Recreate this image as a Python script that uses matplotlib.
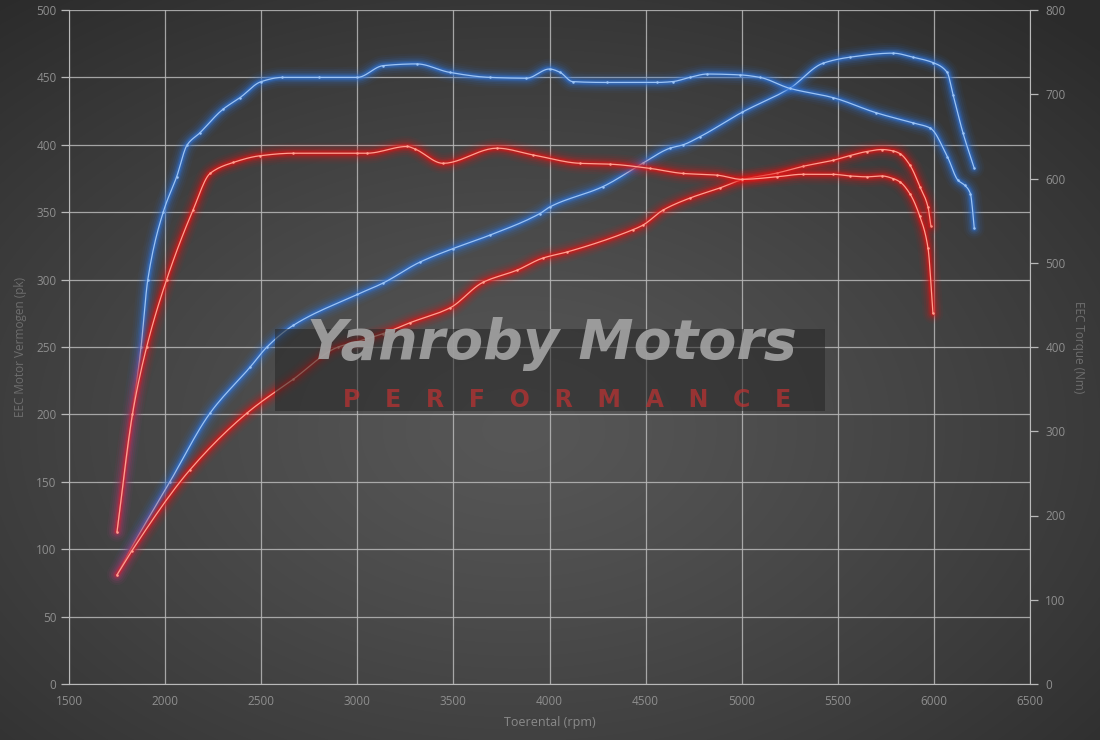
import numpy as np
import matplotlib
matplotlib.use("Agg")
import matplotlib.pyplot as plt

# ---------------- data ----------------
# Tuned (blue) torque, Nm
blue_torque_rpm = [1750, 1830, 1875, 1910, 1990, 2060, 2115, 2180, 2300, 2390, 2500, 2610, 2800,
                   3000, 3135, 3310, 3480, 3690, 3880, 4000, 4055, 4120, 4300, 4560, 4640, 4730,
                   4820, 4990, 5095, 5250, 5475, 5700, 5890, 5980, 6070, 6125, 6160, 6190, 6210]
blue_torque_nm = [181, 320, 400, 480, 560, 602, 640, 654, 682, 696, 715, 720, 720,
                  720, 734, 736, 726, 720, 719, 730, 726, 715, 714, 714, 715, 720,
                  724, 723, 720, 707, 696, 678, 666, 660, 626, 598, 592, 582, 541]

# Stock (red) torque, Nm
red_torque_rpm = [1750, 1830, 1904, 2008, 2146, 2234, 2354, 2494, 2666, 3000, 3050, 3259, 3300,
                  3446, 3727, 3914, 4159, 4315, 4523, 4695, 4871, 5000, 5183, 5318, 5475, 5563,
                  5650, 5730, 5787, 5823, 5875, 5927, 5969, 5995]
red_torque_nm = [181, 320, 400, 480, 563, 606, 619, 627, 630, 630, 630, 638, 635,
                 618, 636, 628, 618, 617, 612, 606, 604, 599, 602, 605, 605, 603,
                 602, 603, 600, 596, 582, 555, 518, 440]

# Tuned (blue) power, pk
blue_power_rpm = [1750, 1817, 2025, 2234, 2442, 2530, 2666, 3000, 3135, 3326, 3498, 3690, 3950,
                  4003, 4278, 4487, 4627, 4695, 4783, 5000, 5251, 5423, 5563, 5787, 5891, 5995,
                  6068, 6100, 6151, 6209]
blue_power_pk = [81, 99, 150, 201, 235, 250, 266, 289, 297.5, 313, 323, 333, 349,
                 354, 369, 386.5, 397.5, 400, 406, 424, 442, 460.5, 465, 468, 465, 461,
                 454, 437, 409, 383]

# Stock (red) power, pk
red_power_rpm = [1750, 1828, 2130, 2426, 2666, 2900, 3000, 3135, 3274, 3482, 3654, 3831,
                 3966, 4091, 4434, 4487, 4590, 4731, 4887, 5000, 5183, 5318, 5475, 5563, 5650,
                 5730, 5787, 5823, 5875, 5927, 5969, 5984]
red_power_pk = [81, 99, 159, 201, 226, 250, 254, 260, 268, 279, 298, 307,
                316, 320.5, 337, 340.5, 351.5, 360.5, 368, 374, 379, 384, 388.5, 392, 395,
                396.5, 395.5, 393.5, 385, 369, 354, 340]

x_ticks = [1500, 2000, 2500, 3000, 3500, 4000, 4500, 5000, 5500, 6000, 6500]
left_ticks = [0, 50, 100, 150, 200, 250, 300, 350, 400, 450, 500]
right_ticks = [0, 100, 200, 300, 400, 500, 600, 700, 800]

# ---------------- figure ----------------
W, H, DPI = 1100, 740, 100
fig = plt.figure(figsize=(W / DPI, H / DPI), dpi=DPI)
plt.rcParams['font.family'] = ['Open Sans', 'DejaVu Sans']

# radial gradient background
bg = fig.add_axes([0, 0, 1, 1], zorder=-10)
yy, xx = np.mgrid[0:H, 0:W]
cx, cy = 0.47 * W, 0.58 * H
r = np.sqrt(((xx - cx) / W) ** 2 + ((yy - cy) / H) ** 2) / 0.75
r = np.clip(r, 0, 1)
c_in, c_out = 0x57, 0x2b
val = (c_in + (c_out - c_in) * r ** 1.2) / 255.0
img = np.dstack([val, val, val])
bg.imshow(img, aspect='auto', extent=[0, 1, 0, 1], origin='upper')
bg.set_axis_off()

left, right = 69 / W, 1030 / W
bottom, top = 1 - 684 / H, 1 - 10 / H
ax = fig.add_axes([left, bottom, right - left, top - bottom])
ax.set_facecolor('none')
ax2 = ax.twinx()
ax2.set_facecolor('none')

grid_col = '#b9b9b9'
tick_col = '#8e8e8e'
lab_col = '#6e6e6e'

ax.set_xlim(1500, 6500)
ax.set_ylim(0, 500)
ax2.set_ylim(0, 800)
ax.set_xticks(x_ticks)
ax.set_yticks(left_ticks)
ax2.set_yticks(right_ticks)
ax.grid(True, color=grid_col, lw=0.9, alpha=0.85)
ax.set_axisbelow(True)

for a in (ax, ax2):
    for s in a.spines.values():
        s.set_visible(False)
ax.spines['left'].set_visible(True)
ax.spines['left'].set_color(grid_col)
ax.spines['bottom'].set_visible(True)
ax.spines['bottom'].set_color(grid_col)
ax2.spines['right'].set_visible(True)
ax2.spines['right'].set_color(grid_col)

ax.tick_params(axis='x', length=0, pad=8, labelsize=8.5, labelcolor=tick_col)
ax.tick_params(axis='y', length=6, width=0.9, color=grid_col, pad=3, labelsize=8.5, labelcolor=tick_col)
ax2.tick_params(axis='y', length=6, width=0.9, color=grid_col, pad=5, labelsize=8.5, labelcolor=tick_col)

ax.set_xlabel('Toerental (rpm)', color='#8a8a8a', fontsize=9, labelpad=6)
fig.text(21 / W, 1 - 347 / H, 'EEC Motor Vermogen (pk)', color=lab_col, fontsize=8.5,
         rotation=90, ha='center', va='center')
fig.text(1078 / W, 1 - 347 / H, 'EEC Torque (Nm)', color=lab_col, fontsize=8.5,
         rotation=270, ha='center', va='center')


def smooth(x, y, n=12):
    """Monotone cubic (Fritsch-Carlson) rendering path through the given points."""
    x = np.asarray(x, float)
    y = np.asarray(y, float)
    h = np.diff(x)
    d = np.diff(y) / h
    m = np.zeros_like(y)
    m[0], m[-1] = d[0], d[-1]
    for i in range(1, len(y) - 1):
        if d[i - 1] * d[i] <= 0:
            m[i] = 0.0
        else:
            w1 = 2 * h[i] + h[i - 1]
            w2 = h[i] + 2 * h[i - 1]
            m[i] = (w1 + w2) / (w1 / d[i - 1] + w2 / d[i])
    xs, ys = [], []
    for i in range(len(x) - 1):
        t = np.linspace(0, 1, n, endpoint=False)
        h00 = 2 * t ** 3 - 3 * t ** 2 + 1
        h10 = t ** 3 - 2 * t ** 2 + t
        h01 = -2 * t ** 3 + 3 * t ** 2
        h11 = t ** 3 - t ** 2
        xs.append(x[i] + t * h[i])
        ys.append(h00 * y[i] + h10 * h[i] * m[i] + h01 * y[i + 1] + h11 * h[i] * m[i + 1])
    xs.append([x[-1]])
    ys.append([y[-1]])
    return np.concatenate(xs), np.concatenate(ys)


def glow(a, x, y, core, halo, z):
    sx, sy = smooth(x, y)
    for lw, al in [(15, 0.05), (12, 0.08), (9, 0.12), (6.5, 0.18), (4.5, 0.28), (3, 0.4)]:
        a.plot(sx, sy, color=halo, lw=lw, alpha=al, solid_capstyle='round',
               solid_joinstyle='round', zorder=z)
    a.plot(sx, sy, color=core, lw=0.9, zorder=z + 0.5, solid_joinstyle='round')
    a.plot(x, y, ls='none', marker='o', ms=1.8, mec='none', mfc=core, zorder=z + 0.6)


blue_core, blue_halo = '#9cc4f5', '#2f74d8'
red_core, red_halo = '#ffa090', '#e41414'

glow(ax2, blue_torque_rpm, blue_torque_nm, blue_core, blue_halo, 3)
glow(ax, blue_power_rpm, blue_power_pk, blue_core, blue_halo, 3)
glow(ax2, red_torque_rpm, red_torque_nm, red_core, red_halo, 4)
glow(ax, red_power_rpm, red_power_pk, red_core, red_halo, 4)

# watermark
wm = fig.add_axes([0, 0, 1, 1], zorder=5)
wm.set_xlim(0, W)
wm.set_ylim(H, 0)
wm.set_axis_off()
wm.add_patch(plt.Rectangle((275, 329), 550, 82, facecolor='#262626', alpha=0.55, lw=0))
wm.text(552, 344, 'Yanroby Motors', ha='center', va='center', fontsize=40,
        fontweight='bold', fontstyle='italic', color='#a4a4a4', alpha=0.9,
        family='DejaVu Sans')
wm.text(567, 400, 'P   E   R   F   O   R   M   A   N   C   E', ha='center', va='center',
        fontsize=17, fontweight='bold', color='#c03232', alpha=0.7, family='DejaVu Sans')

fig.savefig('out.png', dpi=DPI)
